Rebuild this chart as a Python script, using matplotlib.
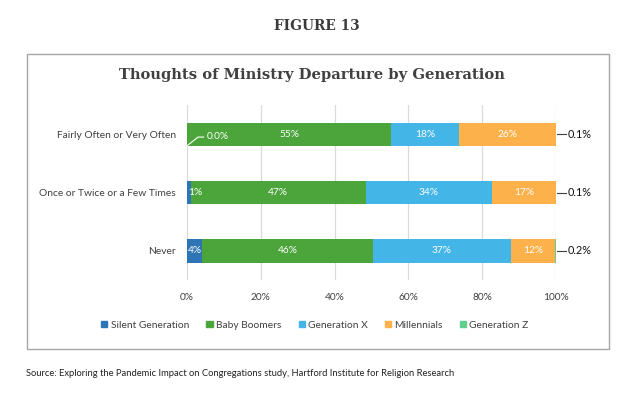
import matplotlib
matplotlib.use("Agg")
import matplotlib.pyplot as plt
from matplotlib.patches import Rectangle

categories = ["Fairly Often or Very Often", "Once or Twice or a Few Times", "Never"]
series = ["Silent Generation", "Baby Boomers", "Generation X", "Millennials", "Generation Z"]
silent = [0.0, 1.1, 4.2]
boomers = [55.3, 47.3, 46.2]
genx = [18.3, 34.3, 37.4]
millennials = [26.3, 17.2, 12.0]
genz = [0.1, 0.1, 0.2]
label_silent = ["0.0%", "1%", "4%"]
label_boomers = ["55%", "47%", "46%"]
label_genx = ["18%", "34%", "37%"]
label_mill = ["26%", "17%", "12%"]
label_genz = ["0.1%", "0.1%", "0.2%"]
xticks = [0, 20, 40, 60, 80, 100]
xticklabels = ["0%", "20%", "40%", "60%", "80%", "100%"]

colors = ["#2E75B6", "#4CA53B", "#43B5E7", "#FDB14A", "#62CE90"]
FONT = "Lato"

W, H = 636, 393
fig = plt.figure(figsize=(W / 100, H / 100), dpi=100)
fig.patch.set_facecolor("white")

def fx(px):
    return px / W

def fy(py):
    return 1 - py / H

# outer box
fig.patches.append(Rectangle((fx(27), fy(349)), fx(609) - fx(27), fy(54) - fy(349),
                             transform=fig.transFigure, fill=False,
                             edgecolor="#a6a6a6", linewidth=1.0, zorder=0))

fig.text(fx(317), fy(26), "FIGURE 13", ha="center", va="center",
         fontsize=9.9, fontweight="bold", family="DejaVu Serif", color="#3a3a3a")
fig.text(fx(312), fy(75), "Thoughts of Ministry Departure by Generation", ha="center",
         va="center", fontsize=10.6, fontweight="bold", family="DejaVu Serif", color="#404040")
fig.text(fx(26), fy(374), "Source: Exploring the Pandemic Impact on Congregations study, "
         "Hartford Institute for Religion Research", ha="left", va="center",
         fontsize=6.75, family=FONT, color="#222222")

ax = fig.add_axes([fx(187), fy(280), fx(556) - fx(187), fy(105) - fy(280)])
ypos = list(range(len(categories)))
data = [silent, boomers, genx, millennials, genz]
labels = [label_silent, label_boomers, label_genx, label_mill, label_genz]
left = [0.0] * len(categories)
bh = 0.4
for s, vals, col, labs in zip(series, data, colors, labels):
    ax.barh(ypos, vals, left=left, height=bh, color=col, label=s, zorder=3)
    if s in ("Baby Boomers", "Generation X", "Millennials"):
        for y, l, v, t in zip(ypos, left, vals, labs):
            ax.text(l + v / 2, y, t, ha="center", va="center", color="white",
                    fontsize=7.3, family=FONT, zorder=4)
    elif s == "Silent Generation":
        for y, l, v, t in zip(ypos, left, vals, labs):
            if v < 0.5:
                ax.plot([0, 3, 4.5], [y + bh / 2, y + 0.05, y + 0.05], color="white",
                        lw=0.8, zorder=4, clip_on=False)
                ax.text(5.3, y + 0.04, t, ha="left", va="center", color="white",
                        fontsize=7.3, family=FONT, zorder=4)
            else:
                ax.text(l + v / 2 if v > 2 else 0.3, y, t,
                        ha="center" if v > 2 else "left", va="center", color="white",
                        fontsize=7.3, family=FONT, zorder=4)
    elif s == "Generation Z":
        for y, l, v, t in zip(ypos, left, vals, labs):
            ax.plot([l + v + 0.4, l + v + 2.6], [y, y], color="#404040", lw=0.8,
                    zorder=4, clip_on=False)
            ax.text(l + v + 3.2, y, t, ha="left", va="center", color="#111111",
                    fontsize=7.8, family=FONT, zorder=4)
    left = [a + b for a, b in zip(left, vals)]

ax.set_xlim(0, 100)
ax.set_ylim(2.5, -0.5)
ax.set_yticks(ypos)
ax.set_yticklabels(categories, fontsize=7.4, family=FONT, color="#404040")
ax.set_xticks(xticks)
ax.set_xticklabels(xticklabels, fontsize=7.3, family=FONT, color="#404040")
ax.tick_params(length=0)
ax.tick_params(axis="y", pad=8)
ax.tick_params(axis="x", pad=9)
for sp in ax.spines.values():
    sp.set_visible(False)
ax.grid(axis="x", color="#d9d9d9", lw=0.9, zorder=0)
ax.set_facecolor("none")

handles = [Rectangle((0, 0), 1, 1, color=c) for c in colors]
fig.legend(handles, series, loc="center", bbox_to_anchor=(fx(315), fy(325)), ncol=5,
           frameon=False, prop={"family": FONT, "size": 7.4}, handlelength=0.6,
           handleheight=0.6, handletextpad=0.3, columnspacing=1.7,
           labelcolor="#404040")

fig.savefig("out.png", dpi=100, facecolor="white")
